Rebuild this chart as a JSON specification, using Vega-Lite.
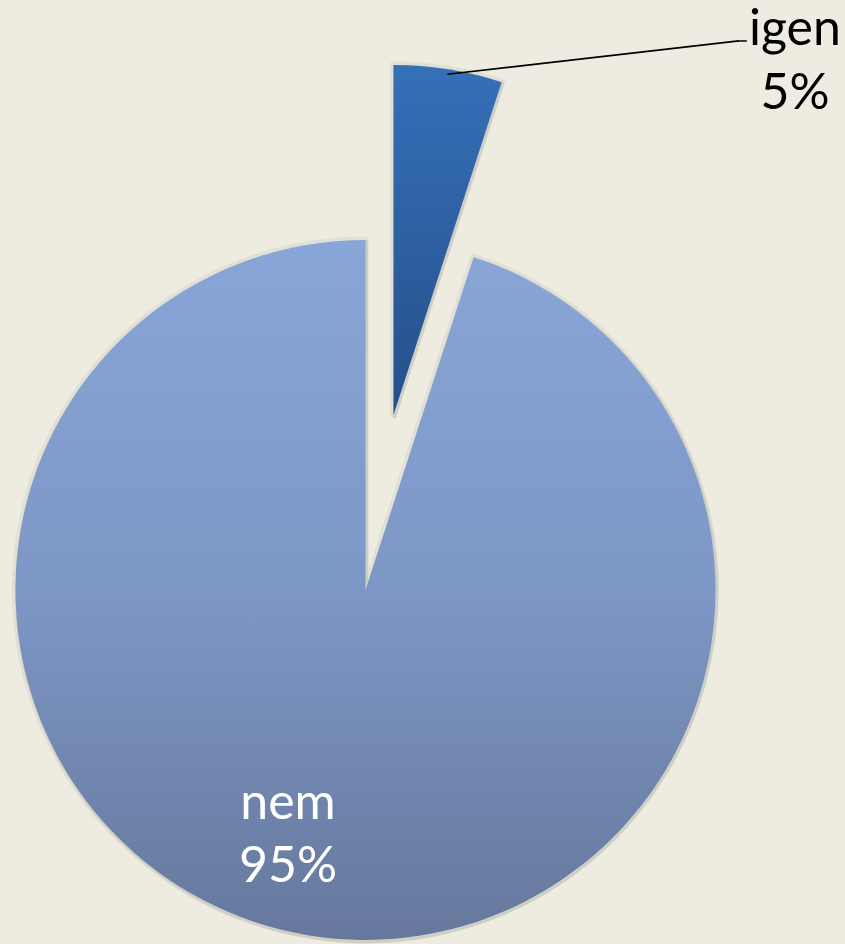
{
  "$schema": "https://vega.github.io/schema/vega-lite/v6.json",
  "autosize": {"type": "none"},
  "width": 700,
  "height": 700,
  "padding": {"left": 15.5, "top": 240, "right": 129.5, "bottom": 4},
  "background": "#EEECE1",
  "config": {"view": {"stroke": null}},
  "data": {"values": [
    {"category": "igen", "value": 5},
    {"category": "nem", "value": 95}
  ]},
  "transform": [
    {"stack": "value", "groupby": [], "sort": [{"field": "category", "order": "ascending"}], "as": ["v0", "v1"]},
    {"calculate": "(datum.v0 + datum.v1) / 2", "as": "mid"},
    {"calculate": "datum.category + '\\n' + datum.value + '%'", "as": "label"}
  ],
  "layer": [
    {
      "transform": [{"filter": "datum.category === 'nem'"}],
      "mark": {"type": "arc", "fill": null, "stroke": "#000000", "strokeWidth": 7, "strokeOpacity": 0.05, "strokeJoin": "round"},
      "encoding": {
        "theta": {"field": "v0", "type": "quantitative", "scale": {"domain": [0, 100]}},
        "theta2": {"field": "v1"}
      }
    },
    {
      "transform": [{"filter": "datum.category === 'nem'"}],
      "mark": {"type": "arc", "fill": null, "stroke": "#000000", "strokeWidth": 3, "strokeOpacity": 0.08, "strokeJoin": "round", "xOffset": 1, "yOffset": 1.5},
      "encoding": {
        "theta": {"field": "v0", "type": "quantitative", "scale": {"domain": [0, 100]}},
        "theta2": {"field": "v1"}
      }
    },
    {
      "transform": [{"filter": "datum.category === 'nem'"}],
      "mark": {"type": "arc", "fill": {"gradient": "linear", "x1": 0, "y1": 0, "x2": 0, "y2": 1, "stops": [{"offset": 0, "color": "#89A6D8"}, {"offset": 0.5, "color": "#7D97C6"}, {"offset": 1, "color": "#66789C"}]}},
      "encoding": {
        "theta": {"field": "v0", "type": "quantitative", "scale": {"domain": [0, 100]}},
        "theta2": {"field": "v1"}
      }
    },
    {
      "transform": [{"filter": "datum.category === 'igen'"}],
      "mark": {"type": "arc", "fill": null, "stroke": "#000000", "strokeWidth": 7, "strokeOpacity": 0.05, "strokeJoin": "round", "xOffset": 28, "yOffset": -175},
      "encoding": {
        "theta": {"field": "v0", "type": "quantitative", "scale": {"domain": [0, 100]}},
        "theta2": {"field": "v1"}
      }
    },
    {
      "transform": [{"filter": "datum.category === 'igen'"}],
      "mark": {"type": "arc", "fill": null, "stroke": "#000000", "strokeWidth": 3, "strokeOpacity": 0.08, "strokeJoin": "round", "xOffset": 29, "yOffset": -173.5},
      "encoding": {
        "theta": {"field": "v0", "type": "quantitative", "scale": {"domain": [0, 100]}},
        "theta2": {"field": "v1"}
      }
    },
    {
      "transform": [{"filter": "datum.category === 'igen'"}],
      "mark": {"type": "arc", "xOffset": 28, "yOffset": -175, "fill": {"gradient": "linear", "x1": 0, "y1": 0, "x2": 0, "y2": 1, "stops": [{"offset": 0, "color": "#3570B8"}, {"offset": 1, "color": "#264F89"}]}},
      "encoding": {
        "theta": {"field": "v0", "type": "quantitative", "scale": {"domain": [0, 100]}},
        "theta2": {"field": "v1"}
      }
    },
    {
      "transform": [{"filter": "datum.category === 'igen'"}],
      "mark": {"type": "arc", "fill": null, "stroke": "#000000", "strokeWidth": 1.6, "radius": 292.4, "theta": 1.4567, "theta2": 1.4568, "xOffset": 82, "yOffset": -515.7},
      "encoding": {}
    },
    {
      "transform": [{"filter": "datum.category === 'igen'"}],
      "mark": {"type": "arc", "fill": null, "stroke": "#000000", "strokeWidth": 1.6, "radius": 8, "theta": 1.5708, "theta2": 1.5709, "xOffset": 372.5, "yOffset": -549},
      "encoding": {}
    },
    {
      "transform": [{"filter": "datum.category === 'igen'"}],
      "mark": {"type": "text", "radius": 345, "xOffset": 28, "yOffset": -175, "dx": 347.5, "dy": -44.5, "font": "Lato", "fontSize": 50, "lineHeight": 64, "lineBreak": "\n", "align": "center", "baseline": "middle", "fill": "#000000"},
      "encoding": {
        "theta": {"field": "mid", "type": "quantitative", "scale": {"domain": [0, 100]}},
        "text": {"field": "label"}
      }
    },
    {
      "transform": [{"filter": "datum.category === 'nem'"}],
      "mark": {"type": "text", "radius": 255, "dx": -37.6, "dy": -38, "font": "Lato", "fontSize": 50, "lineHeight": 63, "lineBreak": "\n", "align": "center", "baseline": "middle", "fill": "#FFFFFF"},
      "encoding": {
        "theta": {"field": "mid", "type": "quantitative", "scale": {"domain": [0, 100]}},
        "text": {"field": "label"}
      }
    }
  ]
}
